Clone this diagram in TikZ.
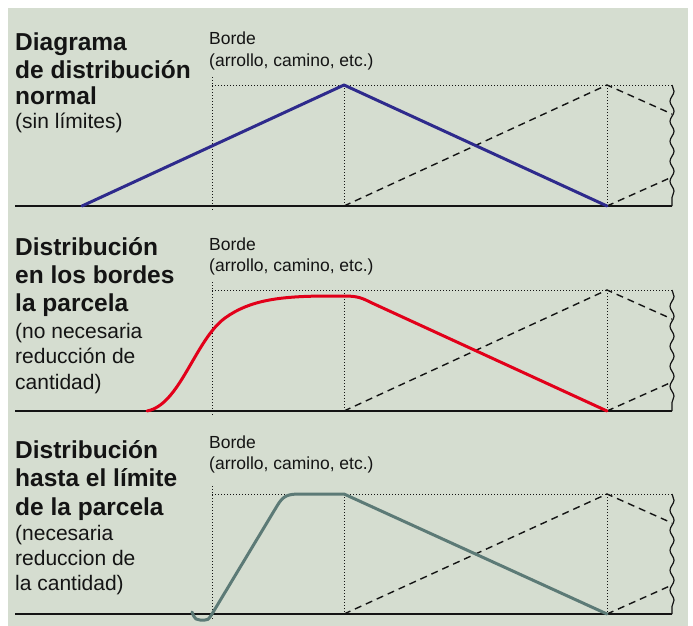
\documentclass[tikz,border=0pt]{standalone}
\usepackage{fontspec}
\setmainfont{Liberation Sans}
\usetikzlibrary{decorations.pathmorphing}
\definecolor{bgc}{RGB}{213,221,208}
\definecolor{cblue}{RGB}{46,42,140}
\definecolor{cred}{RGB}{226,0,26}
\definecolor{cgray}{RGB}{92,122,118}
\definecolor{ink}{RGB}{20,20,20}
\newcommand{\mypanel}[2]{%
  \draw[dots] (212,#1-8) -- (212,#2+5);
  \draw[dots] (212,#1) -- (672,#1);
  \draw[dots] (344,#1) -- (344,#2);
  \draw[dots] (607,#1) -- (607,#2);
  \draw[dsh] (344,#2) -- (607,#1) -- (672,#1+29);
  \draw[dsh] (607,#2) -- (672,#2-29);
  \draw[wavy] (672,#1) -- (672,#2);
  \draw[baseln] (15,#2) -- (672,#2);
}
\begin{document}
\begin{tikzpicture}[x=1pt,y=-1pt,
  title/.style={anchor=base west, inner sep=0pt, text=ink, font=\fontsize{24.5}{28}\selectfont\bfseries},
  sub/.style={anchor=base west, inner sep=0pt, text=ink, font=\fontsize{21}{25}\selectfont},
  lab/.style={anchor=base west, inner sep=0pt, text=ink, font=\fontsize{17.5}{21}\selectfont},
  baseln/.style={line width=1.6pt, ink},
  dots/.style={line width=1pt, ink, dash pattern=on 1pt off 2pt},
  dsh/.style={line width=1.4pt, ink, dash pattern=on 7pt off 5pt},
  wavy/.style={line width=1.2pt, ink, decorate, decoration={snake, segment length=20pt, amplitude=2pt}},
  curve/.style={line width=3pt, line join=round, line cap=round}]
\useasboundingbox (0,0) rectangle (693,626);
\fill[bgc] (8,8) rectangle (688,626);

% panel 1
\mypanel{85}{206}
\draw[curve, cblue] (82,206) -- (344,85) -- (607,206);
\node[title] (t1a) at (15,51) {Diagrama};
\node[title] (t1b) at (15,78) {de distribución};
\node[title] (t1c) at (15,104.5) {normal};
\node[sub] (t1d) at (15,128.5) {(sin límites)};
\node[lab] (b1a) at (209,45) {Borde};
\node[lab] (b1b) at (209,66.5) {(arrollo, camino, etc.)};

% panel 2
\mypanel{290}{411}
\draw[curve, cred] (147,411) .. controls (180,405) and (195,340) .. (225,318)
  .. controls (250,300) and (280,296) .. (330,296) -- (344,296)
  .. controls (358,296) and (362,298) .. (372,303) -- (607,411);
\node[title] (t2a) at (15,255) {Distribución};
\node[title] (t2b) at (15,283) {en los bordes};
\node[title] (t2c) at (15,311.5) {la parcela};
\node[sub] (t2d) at (15,338) {(no necesaria};
\node[sub] (t2e) at (15,363.5) {reducción de};
\node[sub] (t2f) at (15,389) {cantidad)};
\node[lab] (b2a) at (209,250) {Borde};
\node[lab] (b2b) at (209,271.5) {(arrollo, camino, etc.)};

% panel 3
\mypanel{494}{614}
\draw[curve, cgray] (192,612) .. controls (195,620) and (197,620) .. (200,620) -- (205,620)
  .. controls (208,620) .. (212,614) -- (277,506)
  .. controls (283,496) and (287,494) .. (300,494) -- (344,494) -- (607,614);
\node[title] (t3a) at (15,458) {Distribución};
\node[title] (t3b) at (15,486.5) {hasta el límite};
\node[title] (t3c) at (15,515) {de la parcela};
\node[sub] (t3d) at (15,540) {(necesaria};
\node[sub] (t3e) at (15,565) {reduccion de};
\node[sub] (t3f) at (15,590) {la cantidad)};
\node[lab] (b3a) at (209,448) {Borde};
\node[lab] (b3b) at (209,469) {(arrollo, camino, etc.)};
\end{tikzpicture}
\end{document}
